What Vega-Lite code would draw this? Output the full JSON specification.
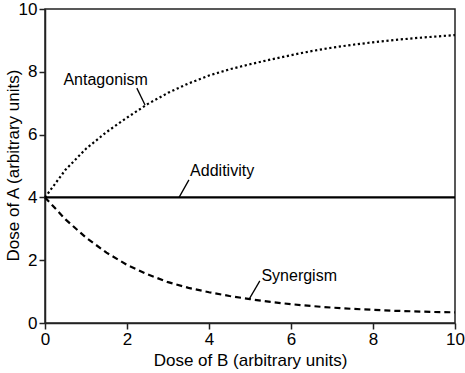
{
  "$schema": "https://vega.github.io/schema/vega-lite/v6.json",
  "autosize": "none",
  "width": 410,
  "height": 314,
  "padding": {"left": 45, "top": 9, "right": 10, "bottom": 50},
  "background": "white",
  "config": {
    "view": {"stroke": "#222", "strokeWidth": 1.5},
    "font": "Liberation Sans",
    "axis": {
      "grid": false,
      "domainColor": "#222",
      "domainWidth": 1.5,
      "tickColor": "#222",
      "tickWidth": 1.5,
      "tickSize": 6,
      "labelColor": "black",
      "titleColor": "black",
      "labelFontSize": 17,
      "titleFontSize": 17,
      "titleFontWeight": "normal",
      "labelFlush": false,
      "labelPadding": 2
    }
  },
  "datasets": {
    "curves": [
      {"series": "Antagonism", "b": 0, "a": 4},
      {"series": "Antagonism", "b": 0.5, "a": 4.88},
      {"series": "Antagonism", "b": 1, "a": 5.55},
      {"series": "Antagonism", "b": 1.5, "a": 6.08},
      {"series": "Antagonism", "b": 2, "a": 6.54},
      {"series": "Antagonism", "b": 2.5, "a": 6.97},
      {"series": "Antagonism", "b": 3, "a": 7.33},
      {"series": "Antagonism", "b": 3.5, "a": 7.63},
      {"series": "Antagonism", "b": 4, "a": 7.88},
      {"series": "Antagonism", "b": 4.5, "a": 8.08},
      {"series": "Antagonism", "b": 5, "a": 8.24},
      {"series": "Antagonism", "b": 5.5, "a": 8.39},
      {"series": "Antagonism", "b": 6, "a": 8.53},
      {"series": "Antagonism", "b": 6.5, "a": 8.66},
      {"series": "Antagonism", "b": 7, "a": 8.77},
      {"series": "Antagonism", "b": 7.5, "a": 8.86},
      {"series": "Antagonism", "b": 8, "a": 8.94},
      {"series": "Antagonism", "b": 8.5, "a": 9.01},
      {"series": "Antagonism", "b": 9, "a": 9.07},
      {"series": "Antagonism", "b": 9.5, "a": 9.12},
      {"series": "Antagonism", "b": 10, "a": 9.17},
      {"series": "Additivity", "b": 0, "a": 4},
      {"series": "Additivity", "b": 10, "a": 4},
      {"series": "Synergism", "b": 0, "a": 4},
      {"series": "Synergism", "b": 0.5, "a": 3.3},
      {"series": "Synergism", "b": 1, "a": 2.72},
      {"series": "Synergism", "b": 1.5, "a": 2.24},
      {"series": "Synergism", "b": 2, "a": 1.85},
      {"series": "Synergism", "b": 2.5, "a": 1.55},
      {"series": "Synergism", "b": 3, "a": 1.3},
      {"series": "Synergism", "b": 3.5, "a": 1.12},
      {"series": "Synergism", "b": 4, "a": 0.98},
      {"series": "Synergism", "b": 4.5, "a": 0.86},
      {"series": "Synergism", "b": 5, "a": 0.76},
      {"series": "Synergism", "b": 5.5, "a": 0.67},
      {"series": "Synergism", "b": 6, "a": 0.6},
      {"series": "Synergism", "b": 6.5, "a": 0.54},
      {"series": "Synergism", "b": 7, "a": 0.49},
      {"series": "Synergism", "b": 7.5, "a": 0.45},
      {"series": "Synergism", "b": 8, "a": 0.42},
      {"series": "Synergism", "b": 8.5, "a": 0.39},
      {"series": "Synergism", "b": 9, "a": 0.37},
      {"series": "Synergism", "b": 9.5, "a": 0.35},
      {"series": "Synergism", "b": 10, "a": 0.34}
    ],
    "labels": [
      {"label": "Antagonism", "b": 1.48, "a": 7.75},
      {"label": "Additivity", "b": 4.32, "a": 4.85},
      {"label": "Synergism", "b": 6.2, "a": 1.5}
    ],
    "leaders": [
      {"b": 2.24, "a": 7.48, "b2": 2.44, "a2": 6.94},
      {"b": 3.51, "a": 4.56, "b2": 3.27, "a2": 4.0},
      {"b": 5.24, "a": 1.34, "b2": 4.98, "a2": 0.76}
    ]
  },
  "layer": [
    {
      "data": {"name": "curves"},
      "mark": {"type": "line", "color": "black", "strokeWidth": 2.2},
      "encoding": {
        "x": {
          "field": "b", "type": "quantitative",
          "scale": {"domain": [0, 10], "nice": false},
          "axis": {"values": [0, 2, 4, 6, 8, 10], "title": "Dose of B (arbitrary units)", "titlePadding": 5}
        },
        "y": {
          "field": "a", "type": "quantitative",
          "scale": {"domain": [0, 10], "nice": false},
          "axis": {"values": [0, 2, 4, 6, 8, 10], "title": "Dose of A (arbitrary units)", "titleX": -23, "titleY": 156, "titleAnchor": null}
        },
        "detail": {"field": "series"},
        "strokeDash": {
          "field": "series", "type": "nominal",
          "scale": {"domain": ["Antagonism", "Additivity", "Synergism"], "range": [[2.2, 2.6], [1, 0], [6, 4]]},
          "legend": null
        },
        "strokeWidth": {
          "field": "series", "type": "nominal",
          "scale": {"domain": ["Antagonism", "Additivity", "Synergism"], "range": [2.5, 1.6, 2.7]},
          "legend": null
        }
      }
    },
    {
      "data": {"name": "leaders"},
      "mark": {"type": "rule", "color": "black", "strokeWidth": 1.3},
      "encoding": {
        "x": {"field": "b", "type": "quantitative"},
        "y": {"field": "a", "type": "quantitative"},
        "x2": {"field": "b2"},
        "y2": {"field": "a2"}
      }
    },
    {
      "data": {"name": "labels"},
      "mark": {"type": "text", "fontSize": 16, "color": "black", "font": "Liberation Sans"},
      "encoding": {
        "x": {"field": "b", "type": "quantitative"},
        "y": {"field": "a", "type": "quantitative"},
        "text": {"field": "label"}
      }
    }
  ]
}
